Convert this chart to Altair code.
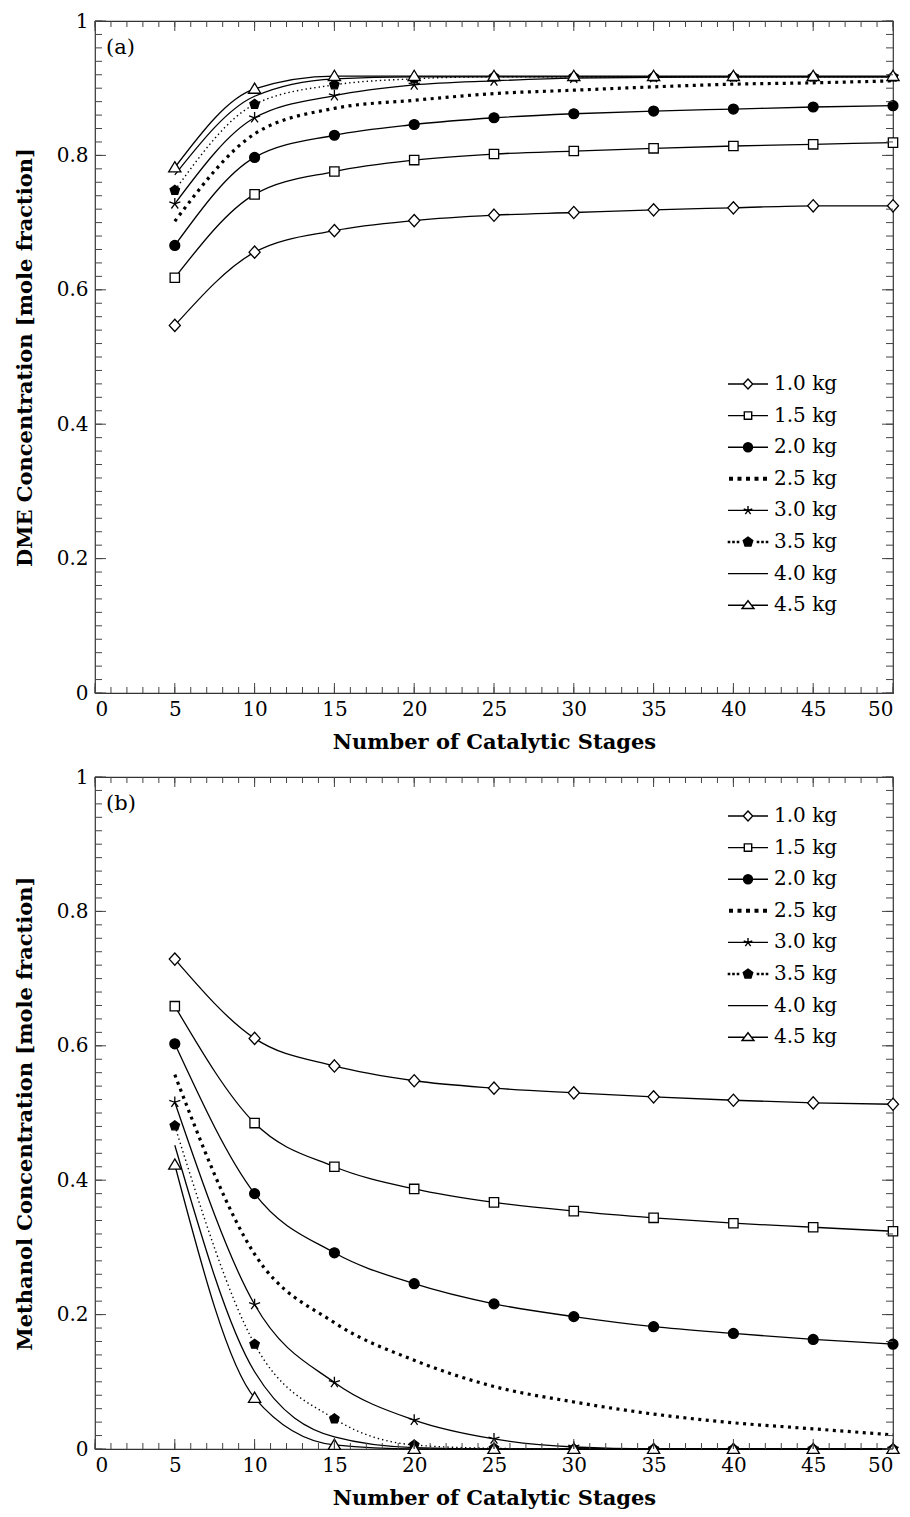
import altair as alt
import pandas as pd

# ---------------- data ----------------
stages = [5, 10, 15, 20, 25, 30, 35, 40, 45, 50]
series = ["1.0 kg", "1.5 kg", "2.0 kg", "2.5 kg", "3.0 kg", "3.5 kg", "4.0 kg", "4.5 kg"]

dme_10 = [0.547, 0.656, 0.688, 0.703, 0.711, 0.715, 0.719, 0.722, 0.725, 0.725]
dme_15 = [0.618, 0.742, 0.776, 0.793, 0.802, 0.8065, 0.8105, 0.814, 0.8165, 0.819]
dme_20 = [0.666, 0.797, 0.830, 0.846, 0.856, 0.862, 0.866, 0.869, 0.872, 0.874]
dme_25 = [0.702, 0.832, 0.870, 0.882, 0.892, 0.897, 0.902, 0.906, 0.908, 0.911]
dme_30 = [0.728, 0.856, 0.889, 0.905, 0.911, 0.915, 0.916, 0.917, 0.917, 0.917]
dme_35 = [0.748, 0.876, 0.905, 0.914, 0.917, 0.917, 0.917, 0.917, 0.917, 0.917]
dme_40 = [0.771, 0.888, 0.914, 0.917, 0.917, 0.917, 0.917, 0.917, 0.917, 0.917]
dme_45 = [0.782, 0.899, 0.918, 0.918, 0.918, 0.918, 0.918, 0.918, 0.918, 0.918]

meoh_10 = [0.729, 0.611, 0.570, 0.548, 0.537, 0.530, 0.524, 0.519, 0.515, 0.513]
meoh_15 = [0.659, 0.485, 0.420, 0.387, 0.367, 0.354, 0.344, 0.336, 0.330, 0.324]
meoh_20 = [0.603, 0.380, 0.292, 0.246, 0.216, 0.197, 0.182, 0.172, 0.163, 0.156]
meoh_25 = [0.557, 0.290, 0.188, 0.132, 0.093, 0.070, 0.052, 0.039, 0.030, 0.021]
meoh_30 = [0.516, 0.215, 0.099, 0.043, 0.015, 0.003, 0.0, 0.0, 0.0, 0.0]
meoh_35 = [0.481, 0.156, 0.045, 0.006, 0.001, 0.0, 0.0, 0.0, 0.0, 0.0]
meoh_40 = [0.452, 0.115, 0.018, 0.002, 0.0, 0.0, 0.0, 0.0, 0.0, 0.0]
meoh_45 = [0.423, 0.076, 0.006, 0.0, 0.0, 0.0, 0.0, 0.0, 0.0, 0.0]

x_major = [0, 5, 10, 15, 20, 25, 30, 35, 40, 45, 50]
x_minor = list(range(0, 51))
y_major = [0, 0.2, 0.4, 0.6, 0.8, 1.0]
y_minor = [round(i * 0.02, 2) for i in range(51)]

dme = [dme_10, dme_15, dme_20, dme_25, dme_30, dme_35, dme_40, dme_45]
meoh = [meoh_10, meoh_15, meoh_20, meoh_25, meoh_30, meoh_35, meoh_40, meoh_45]

# ---------------- styles ----------------
W, H = 798, 672
FONT = "DejaVu Serif"
TICK = "#444444"

solid_series = ["1.0 kg", "1.5 kg", "2.0 kg", "3.0 kg", "4.0 kg", "4.5 kg"]
marker_series = ["1.0 kg", "1.5 kg", "2.0 kg", "3.0 kg", "3.5 kg", "4.5 kg"]
marker_paths = [
    "M0,-1.05L0.95,0L0,1.05L-0.95,0Z",
    "M-0.8,-0.8L0.8,-0.8L0.8,0.8L-0.8,0.8Z",
    "M0.85,0A0.85,0.85,0,1,1,-0.85,0A0.85,0.85,0,1,1,0.85,0Z",
    "M0,0L0,-1M0,0L0.951,-0.309M0,0L-0.951,-0.309M0,0L-0.588,0.809M0,0L0.588,0.809",
    "M0,-0.85L0.808,-0.263L0.5,0.688L-0.5,0.688L-0.808,-0.263Z",
    "M0,-1L1.05,0.75L-1.05,0.75Z",
]
marker_fills = ["white", "white", "black", "white", "black", "white"]


def sq(cx, h):
    return f"M{cx - h:.3f},{-h:.3f}h{2 * h:.3f}v{2 * h:.3f}h{-2 * h:.3f}Z"


legend_paths = [
    "M-2,0L-0.47,0M0.47,0L2,0M0,-0.5L0.47,0L0,0.5L-0.47,0Z",
    "M-2,0L-0.37,0M0.37,0L2,0M-0.37,-0.37L0.37,-0.37L0.37,0.37L-0.37,0.37Z",
    "M-2,0L2,0M0.45,0A0.45,0.45,0,1,1,-0.45,0A0.45,0.45,0,1,1,0.45,0Z",
    "".join(sq(c, 0.13) for c in [-1.7, -0.85, 0, 0.85, 1.7]),
    "M-2,0L2,0M0,0L0,-0.45M0,0L0.428,-0.139M0,0L-0.428,-0.139M0,0L-0.265,0.364M0,0L0.265,0.364",
    "".join(sq(c, 0.06) for c in [-1.9, -1.45, -1.0, 1.0, 1.45, 1.9])
    + "M0,-0.5L0.476,-0.155L0.294,0.405L-0.294,0.405L-0.476,-0.155Z",
    "M-2,0L2,0",
    "M-2,0L-0.35,0M0.35,0L2,0M0,-0.45L0.6,0.33L-0.6,0.33Z",
]
legend_fills = ["white", "white", "black", "black", "white", "black", "white", "white"]
legend_strokes = ["black"] * 8


def panel(values, ytitle, tag, legend_y):
    rows = []
    for s, vals in zip(series, values):
        for st, v in zip(stages, vals):
            rows.append({"series": s, "stage": st, "value": v})
    df = pd.DataFrame(rows)

    xs = alt.Scale(domain=[0, 50], nice=False, zero=False)
    ys = alt.Scale(domain=[0, 1], nice=False, zero=False)
    x_axis = alt.Axis(values=x_major, title="Number of Catalytic Stages", ticks=False,
                      domain=False, grid=False, labelPadding=6, titlePadding=12)
    y_axis = alt.Axis(values=y_major, format="~g", title=ytitle, ticks=False,
                      domain=False, grid=False, labelPadding=7, titlePadding=21)

    base = alt.Chart(df)
    X = alt.X("stage:Q", scale=xs, axis=x_axis)
    Y = alt.Y("value:Q", scale=ys, axis=y_axis)

    solid = base.transform_filter(
        alt.FieldOneOfPredicate(field="series", oneOf=solid_series)
    ).mark_line(interpolate="monotone", color="black", strokeWidth=1.3).encode(
        x=X, y=Y, detail="series:N")
    thick_dot = base.transform_filter(alt.datum.series == "2.5 kg").mark_line(
        interpolate="monotone", color="black", strokeWidth=3.2, strokeDash=[3, 4.5],
        strokeCap="butt").encode(x=X, y=Y)
    thin_dot = base.transform_filter(alt.datum.series == "3.5 kg").mark_line(
        interpolate="monotone", color="black", strokeWidth=1.4, strokeDash=[1.4, 3],
        strokeCap="butt").encode(x=X, y=Y)

    markers = base.transform_filter(
        alt.FieldOneOfPredicate(field="series", oneOf=marker_series)
    ).mark_point(size=136, strokeWidth=1.3, opacity=1, stroke="black").encode(
        x=X, y=Y,
        shape=alt.Shape("series:N", scale=alt.Scale(domain=marker_series, range=marker_paths), legend=None),
        fill=alt.Fill("series:N", scale=alt.Scale(domain=marker_series, range=marker_fills), legend=None),
    )

    leg = alt.Legend(title=None, orient="none", legendX=642, legendY=legend_y,
                     symbolSize=400, symbolStrokeWidth=1.4, symbolStrokeColor="black",
                     symbolOpacity=1, labelFont=FONT, labelFontSize=20, labelColor="black",
                     labelOffset=15, rowPadding=10.6, padding=0, labelBaseline="middle")
    legend_layer = base.mark_point(opacity=0, strokeWidth=1.4).encode(
        x=X, y=Y,
        shape=alt.Shape("series:N", scale=alt.Scale(domain=series, range=legend_paths), legend=leg),
        fill=alt.Fill("series:N", scale=alt.Scale(domain=series, range=legend_fills), legend=leg),
        stroke=alt.Stroke("series:N", scale=alt.Scale(domain=series, range=legend_strokes), legend=leg),
    )

    def xt(vals, L):
        b = alt.Chart(pd.DataFrame({"stage": vals})).mark_rule(color=TICK, strokeWidth=1)
        return [b.encode(x=X, y=alt.value(H), y2=alt.value(H - L)),
                b.encode(x=X, y=alt.value(0), y2=alt.value(L))]

    def yt(vals, L):
        b = alt.Chart(pd.DataFrame({"value": vals})).mark_rule(color=TICK, strokeWidth=1)
        return [b.encode(y=Y, x=alt.value(0), x2=alt.value(L)),
                b.encode(y=Y, x=alt.value(W), x2=alt.value(W - L))]

    ticks = xt(x_minor, 6) + xt(x_major, 10) + yt(y_minor, 7) + yt(y_major, 11)

    label = alt.Chart(pd.DataFrame({"t": [tag]})).mark_text(
        align="left", baseline="middle", font=FONT, fontSize=21, color="black"
    ).encode(text="t:N", x=alt.value(11), y=alt.value(27))

    return alt.layer(
        solid, thick_dot, thin_dot, markers, legend_layer, *ticks, label
    ).resolve_scale(shape="independent", fill="independent", stroke="independent").properties(width=W, height=H)


top = panel(dme, "DME Concentration [mole fraction]", "(a)", 352)
bottom = panel(meoh, "Methanol Concentration [mole fraction]", "(b)", 28)

chart = alt.vconcat(top, bottom, spacing=13).resolve_scale(
    shape="independent", fill="independent", stroke="independent"
).properties(
    padding={"left": 13, "top": 10, "right": 5, "bottom": 5},
    background="white",
).configure_view(
    stroke="#333333", strokeWidth=1.2
).configure_axis(
    labelFont=FONT, labelFontSize=20, labelColor="black",
    titleFont=FONT, titleFontSize=21, titleFontWeight="bold", titleColor="black"
)

chart.save("out.html", embed_options={"renderer": "svg", "actions": False})
